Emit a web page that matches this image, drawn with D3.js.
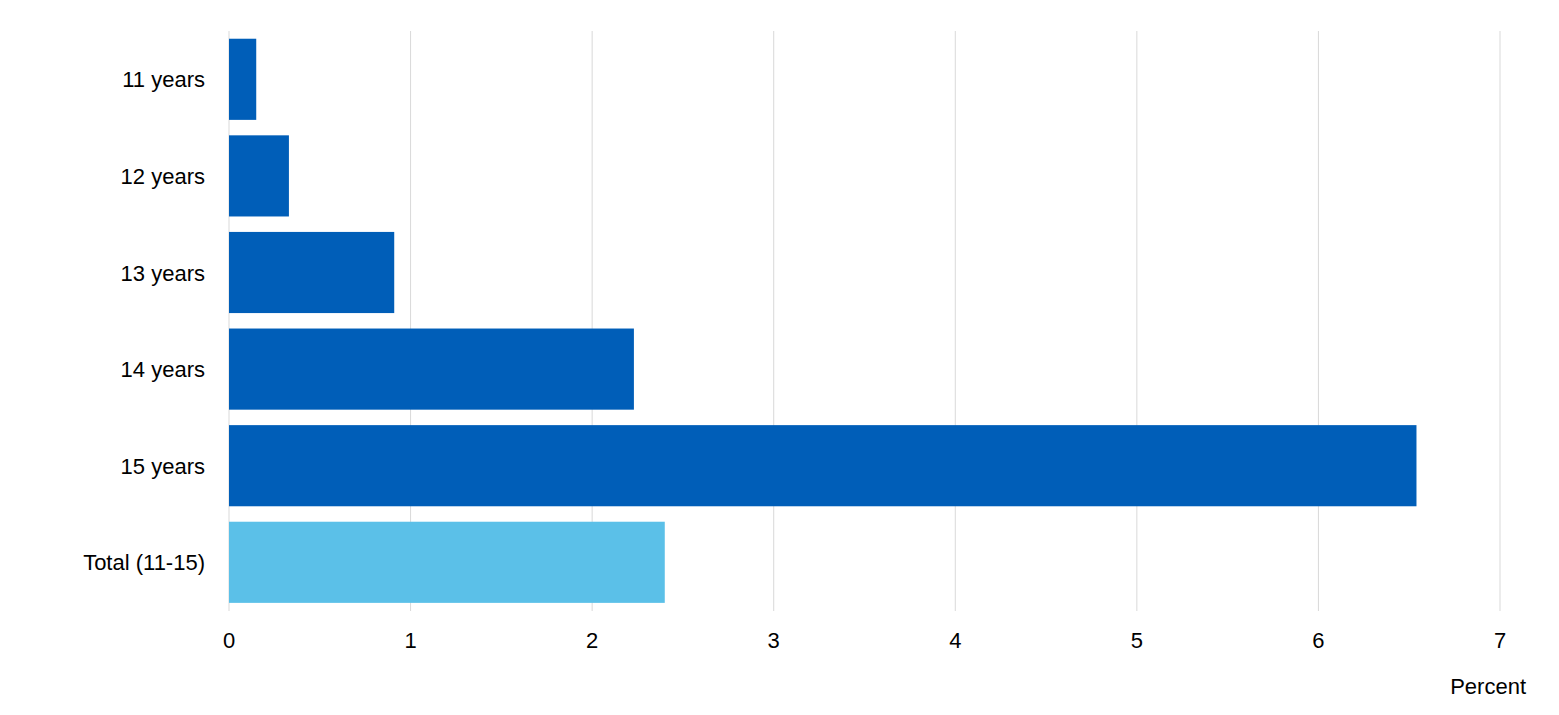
<!DOCTYPE html>
<html>
<head>
<meta charset="utf-8">
<script src="https://cdn.jsdelivr.net/npm/d3@7"></script>
<style>body{margin:0;background:#fff;}</style>
</head>
<body>
<div id="chart"></div>
<script>
// chart data
var categories = ["11 years", "12 years", "13 years", "14 years", "15 years", "Total (11-15)"],
    values = [0.15, 0.33, 0.91, 2.23, 6.54, 2.40],
    colors = ["#005EB8", "#005EB8", "#005EB8", "#005EB8", "#005EB8", "#5BC0E8"],
    xTicks = [0, 1, 2, 3, 4, 5, 6, 7];

var w = 1559, h = 715,
    svg = d3.select("#chart").append("svg").attr("width", w).attr("height", h),
    x = d3.scaleLinear().domain([0, 7]).range([229, 1500]),
    y = d3.scaleBand().domain(categories).range([31, 610.6]).paddingInner(0.16).paddingOuter(0.08);

var font = "Liberation Sans, Arial, sans-serif";

// vertical gridlines
svg.selectAll(".grid")
    .data(xTicks)
    .enter().append("line")
    .attr("x1", function(d) { return x(d); })
    .attr("x2", function(d) { return x(d); })
    .attr("y1", 31)
    .attr("y2", 611)
    .attr("stroke", "#d9d9d9")
    .attr("stroke-width", 1);

// bars
svg.selectAll(".bar")
    .data(values)
    .enter().append("rect")
    .attr("x", x(0))
    .attr("y", function(d, i) { return y(categories[i]); })
    .attr("width", function(d) { return x(d) - x(0); })
    .attr("height", y.bandwidth())
    .attr("fill", function(d, i) { return colors[i]; });

// x tick labels
svg.selectAll(".xt")
    .data(xTicks)
    .enter().append("text")
    .attr("x", function(d) { return x(d); })
    .attr("y", 648)
    .attr("text-anchor", "middle")
    .attr("font-family", font)
    .attr("font-size", "22px")
    .attr("fill", "#000")
    .text(function(d) { return d; });

// category labels
svg.selectAll(".yt")
    .data(categories)
    .enter().append("text")
    .attr("x", 205)
    .attr("y", function(d) { return y(d) + y.bandwidth() / 2 + 8; })
    .attr("text-anchor", "end")
    .attr("font-family", font)
    .attr("font-size", "22px")
    .attr("fill", "#000")
    .text(function(d) { return d; });

// axis title
svg.append("text")
    .attr("x", 1526)
    .attr("y", 694)
    .attr("text-anchor", "end")
    .attr("font-family", font)
    .attr("font-size", "22px")
    .attr("fill", "#000")
    .text("Percent");
</script>
</body>
</html>
